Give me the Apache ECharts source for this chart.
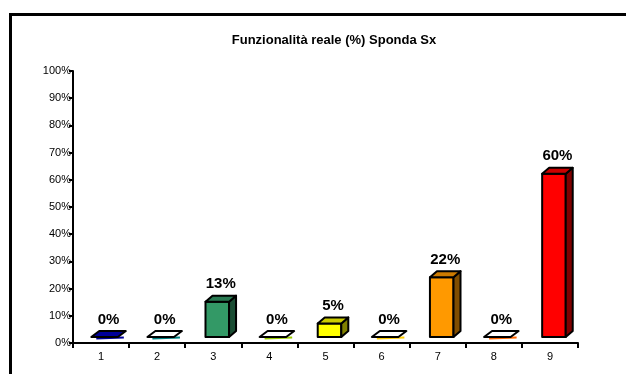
<!DOCTYPE html>
<html>
<head>
<meta charset="utf-8">
<script src="https://cdn.jsdelivr.net/npm/echarts@6/dist/echarts.min.js"></script>
<style>
  html, body { margin: 0; padding: 0; background: #fff; }
  #chart { width: 626px; height: 374px; }
</style>
</head>
<body>
<div id="chart"></div>
<script>
// values (percent)
const categories = ["1", "2", "3", "4", "5", "6", "7", "8", "9"];
const values = [0, 0, 13, 0, 5, 0, 22, 0, 60];
const barColors = ["#000099", "#008080", "#339966", "#99CC00", "#FFFF00", "#FFCC00", "#FF9900", "#FF6600", "#FF0000"];
const yTicks = { min: 0, max: 100, step: 10 };
const titleText = "Funzionalità reale (%) Sponda Sx";

// fake 3D depth (px)
const DX = 7, DY = 6, LIFT = 6;

function shade(hex, k) {
  const n = parseInt(hex.slice(1), 16);
  const r = Math.round(((n >> 16) & 255) * k);
  const g = Math.round(((n >> 8) & 255) * k);
  const b = Math.round((n & 255) * k);
  return "rgb(" + r + "," + g + "," + b + ")";
}

function renderItem(params, api) {
  const i = api.value(0);
  const v = api.value(1);
  const c0 = api.coord([i, 0]);
  const c1 = api.coord([i, v]);
  const band = api.size([1, 0])[0];
  const w = band * 0.42;
  const cx = c0[0] + 4;
  const x0 = cx - w / 2, x1 = cx + w / 2;
  const yb = c0[1] - LIFT, yt = c1[1] - LIFT;
  const col = barColors[params.dataIndex];
  const stroke = { stroke: "#000", lineWidth: 2, lineJoin: "round" };
  const kids = [];

  if (v > 0) {
    kids.push({
      type: "rect",
      shape: { x: x0, y: yt, width: w, height: yb - yt },
      style: Object.assign({ fill: col }, stroke)
    });
    kids.push({
      type: "polygon",
      shape: { points: [[x1, yt], [x1 + DX, yt - DY], [x1 + DX, yb - DY], [x1, yb]] },
      style: Object.assign({ fill: shade(col, 0.5) }, stroke)
    });
    kids.push({
      type: "polygon",
      shape: { points: [[x0, yt], [x1, yt], [x1 + DX, yt - DY], [x0 + DX, yt - DY]] },
      style: Object.assign({ fill: shade(col, 0.8) }, stroke)
    });
  } else {
    // flat bar: only the lid shows
    kids.push({
      type: "line",
      shape: { x1: x0 + 3, y1: yb + 1.5, x2: x1 + DX, y2: yb + 0.5 },
      style: { stroke: col, lineWidth: 2 }
    });
    kids.push({
      type: "polygon",
      shape: { points: [[x0 - 2, yb], [x1 + 1, yb], [x1 + DX + 2, yb - DY], [x0 + DX - 1, yb - DY]] },
      style: Object.assign({ fill: params.dataIndex === 0 ? col : "#fff" }, stroke)
    });
  }

  kids.push({
    type: "text",
    style: {
      text: v + "%",
      x: cx + DX / 2,
      y: yt - DY - 4,
      align: "center",
      verticalAlign: "bottom",
      font: "bold 15px Arial, 'Liberation Sans', sans-serif",
      fill: "#000"
    }
  });

  return { type: "group", children: kids };
}

const chart = echarts.init(document.getElementById("chart"), null, { renderer: "canvas" });

chart.setOption({
  backgroundColor: "#fff",
  animation: false,
  textStyle: { fontFamily: "Arial, 'Liberation Sans', sans-serif" },
  grid: { left: 73, right: 48, top: 71, bottom: 31 },
  graphic: [
    {
      type: "rect",
      shape: { x: 10.5, y: 14.5, width: 700, height: 420 },
      style: { fill: "none", stroke: "#000", lineWidth: 3 },
      silent: true
    },
    {
      type: "text",
      x: 334,
      y: 40,
      style: {
        text: titleText,
        align: "center",
        verticalAlign: "middle",
        font: "bold 13px Arial, 'Liberation Sans', sans-serif",
        fill: "#000"
      }
    }
  ],
  xAxis: {
    type: "category",
    data: categories,
    boundaryGap: true,
    axisLine: { lineStyle: { color: "#000", width: 2 } },
    axisTick: { show: true, length: 5, lineStyle: { color: "#000", width: 2 } },
    axisLabel: { color: "#000", fontSize: 11, margin: 8 },
    splitLine: { show: false }
  },
  yAxis: {
    type: "value",
    min: yTicks.min,
    max: yTicks.max,
    interval: yTicks.step,
    axisLine: { show: true, lineStyle: { color: "#000", width: 2 } },
    axisTick: { show: true, length: 4, lineStyle: { color: "#000", width: 2 } },
    axisLabel: { color: "#000", fontSize: 11, margin: 2, formatter: "{value}%" },
    splitLine: { show: false }
  },
  series: [
    {
      type: "custom",
      clip: false,
      renderItem: renderItem,
      encode: { x: 0, y: 1 },
      data: values.map((v, i) => [i, v])
    }
  ]
});
</script>
</body>
</html>
